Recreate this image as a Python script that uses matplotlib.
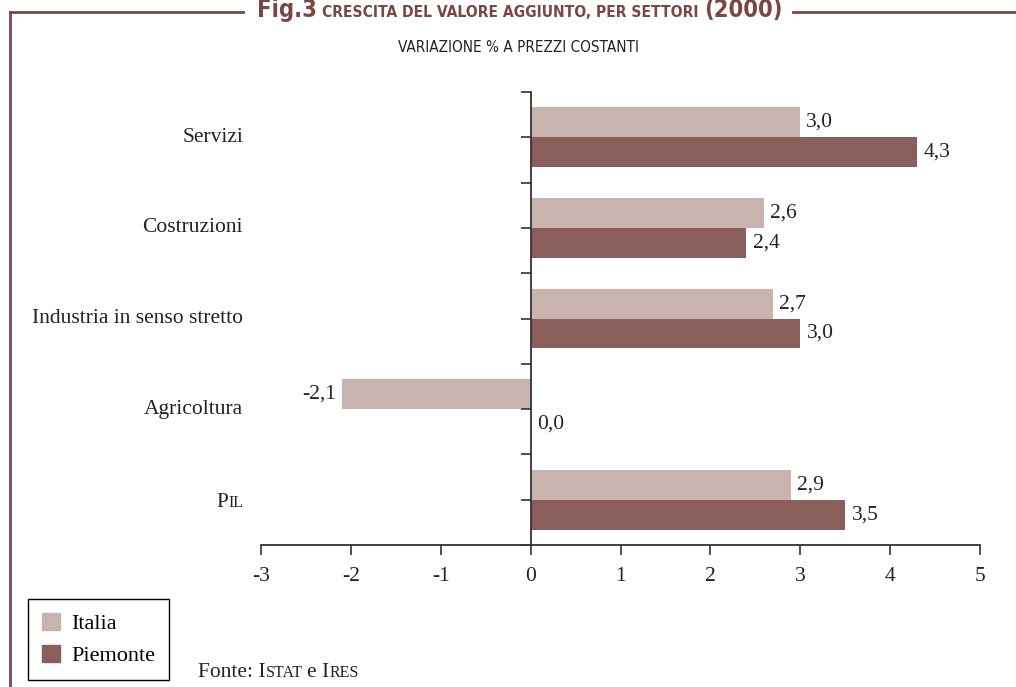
import matplotlib
matplotlib.use("Agg")
from matplotlib import pyplot as plt
from matplotlib.lines import Line2D
from matplotlib.patches import Patch
import numpy as np

plt.rcParams.update({'font.family': 'Liberation Serif', 'font.size': 15.5,
                     'axes.unicode_minus': False})

sectors = ["Servizi", "Costruzioni", "Industria in senso stretto", "Agricoltura", "Pil"]
italia = [3.0, 2.6, 2.7, -2.1, 2.9]
piemonte = [4.3, 2.4, 3.0, 0.0, 3.5]
x_ticks = [-3, -2, -1, 0, 1, 2, 3, 4, 5]

col_italia = "#c8b3ae"
col_piemonte = "#8a5e5a"
frame_col = "#7a4646"
ink = "#222222"
title_font = 'DejaVu Sans'

W, H = 1016, 687
fig = plt.figure(figsize=(W / 100, H / 100), dpi=100)
ax = fig.add_axes([261 / W, 1 - 545 / H, 719 / W, 453 / H])


def chain(first, parts, **kw):
    # put each piece right after the previous one, on the same baseline
    prev = first
    y0 = first.get_position()[1]
    for txt, size, gap in parts:
        prev = ax.annotate(txt, xy=(1, y0), xycoords=(prev, first.get_transform()),
                           xytext=(gap, 0), textcoords='offset points',
                           fontsize=size, ha='left', va='baseline',
                           annotation_clip=False, **kw)
    return prev


def fmt(v):
    return f"{v:.1f}".replace(".", ",")


pos = np.arange(len(sectors))[::-1]
h = 0.33
b1 = ax.barh(pos + h / 2, italia, height=h, color=col_italia, label="Italia")
b2 = ax.barh(pos - h / 2, piemonte, height=h, color=col_piemonte, label="Piemonte")
ax.bar_label(b1, labels=[fmt(v) for v in italia], padding=4, color=ink)
ax.bar_label(b2, labels=[fmt(v) for v in piemonte], padding=5, color=ink)

ax.set_xlim(-3, 5)
ax.set_ylim(-0.5, 4.5)
for s in ('top', 'right'):
    ax.spines[s].set_visible(False)
ax.spines['left'].set_position(('data', 0))
for s in ('left', 'bottom'):
    ax.spines[s].set_linewidth(1.3)
    ax.spines[s].set_color('#333333')
ax.set_xticks(x_ticks)
ax.set_xticklabels([str(t) for t in x_ticks])
ax.set_yticks(np.arange(-0.5, 4.6, 0.5))
ax.set_yticklabels([])
ax.tick_params(axis='y', direction='out', length=7, width=1.2, color='#333333')
ax.tick_params(axis='x', direction='out', length=7, width=1.2, color='#333333',
               pad=9, labelcolor=ink)

# category names sit well to the left of the zero axis
ytr = ax.get_yaxis_transform()
for p, name in zip(pos, sectors):
    if name == "Pil":
        il = ax.text(-0.025, p - 0.08, "IL", transform=ytr, ha='right', va='baseline',
                     fontsize=11.5, color=ink)
        ax.annotate("P", xy=(0, p - 0.08), xycoords=(il, ytr), ha='right',
                    va='baseline', fontsize=15.5, color=ink, annotation_clip=False)
    else:
        ax.text(-0.025, p, name, transform=ytr, ha='right', va='center', color=ink)

# title block with the brown frame
t = fig.text(257 / W, 1 - 17 / H, "Fig.3", fontsize=17, fontweight='bold',
             color=frame_col, family=title_font, fontstretch='condensed', va='baseline')
chain(t, [("CRESCITA DEL VALORE AGGIUNTO, PER SETTORI", 11.2, 4),
          ("(2000)", 17, 4)],
      fontweight='bold', color=frame_col, family=title_font, fontstretch='condensed')
fig.text(518 / W, 1 - 47 / H, "VARIAZIONE % A PREZZI COSTANTI", fontsize=11,
         ha='center', va='center', color=ink, family=title_font, fontstretch='condensed')

yl = 1 - 12 / H
fig.add_artist(Line2D([10 / W, 243 / W], [yl, yl], transform=fig.transFigure,
                      color=frame_col, lw=2))
fig.add_artist(Line2D([793 / W, 1], [yl, yl], transform=fig.transFigure,
                      color=frame_col, lw=2))
fig.add_artist(Line2D([10 / W, 10 / W], [yl, 0], transform=fig.transFigure,
                      color=frame_col, lw=2))

handles = [Patch(color=col_italia, label="Italia"),
           Patch(color=col_piemonte, label="Piemonte")]
leg = fig.legend(handles=handles, loc='lower left', bbox_to_anchor=(28 / W, 7 / H),
                 fancybox=False, edgecolor='black', framealpha=1, fontsize=16,
                 handlelength=0.82, handleheight=0.82, handletextpad=0.5,
                 labelspacing=0.48, borderpad=0.62, borderaxespad=0)
leg.get_frame().set_linewidth(1.0)

f = fig.text(198 / W, 10 / H, "Fonte: I", fontsize=15.5, va='baseline', color=ink)
chain(f, [("STAT", 11.5, 0), ("e I", 15.5, 3.5), ("RES", 11.5, 0)], color=ink)

fig.savefig("out.png", dpi=100)
